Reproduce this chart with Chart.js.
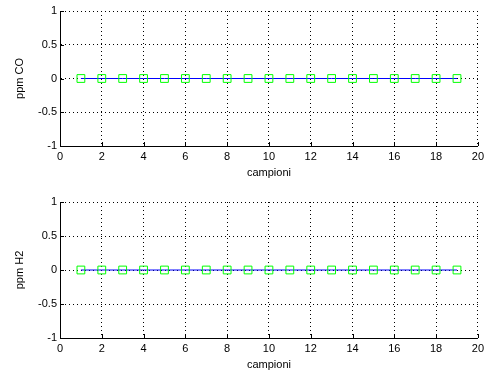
<!DOCTYPE html>
<html>
<head>
<meta charset="utf-8">
<script src="https://cdn.jsdelivr.net/npm/chart.js@4"></script>
<style>
	html, body { margin:0; padding:0; background:#fff; }
	#grafici { position:relative; width:488px; height:376px; }
	.riquadro { position:absolute; left:0; width:488px; height:188px; }
</style>
</head>
<body>
<div id="grafici">
	<div class="riquadro" style="top:0"><canvas id="canva_co" width="488" height="188"></canvas></div>
	<div class="riquadro" style="top:188px"><canvas id="canva_h2" width="488" height="188"></canvas></div>
</div>
<script>
// numero del campione
const campioni = [1, 2, 3, 4, 5, 6, 7, 8, 9, 10, 11, 12, 13, 14, 15, 16, 17, 18, 19];
// letture dei sensori
const ppm_co = [0, 0, 0, 0, 0, 0, 0, 0, 0, 0, 0, 0, 0, 0, 0, 0, 0, 0, 0];
const ppm_h2 = [0, 0, 0, 0, 0, 0, 0, 0, 0, 0, 0, 0, 0, 0, 0, 0, 0, 0, 0];
// tacche degli assi
const tacche_x = [0, 2, 4, 6, 8, 10, 12, 14, 16, 18, 20];
const tacche_y = [-1, -0.5, 0, 0.5, 1];

const font_assi = { family: "'Liberation Sans', Arial, sans-serif", size: 11 };

// tacche corte verso l'interno, come negli assi di matlab
const tacche_interne = {
	id: 'tacche_interne',
	afterDatasetsDraw(chart) {
		const { ctx, chartArea, scales: { x, y } } = chart;
		ctx.save();
		ctx.strokeStyle = '#000';
		ctx.lineWidth = 1;
		ctx.beginPath();
		x.ticks.forEach(t => {
			let px = Math.round(x.getPixelForValue(t.value)) + 0.5;
			ctx.moveTo(px, chartArea.bottom);
			ctx.lineTo(px, chartArea.bottom - 4);
		});
		y.ticks.forEach(t => {
			let py = Math.round(y.getPixelForValue(t.value)) + 0.5;
			ctx.moveTo(chartArea.left, py);
			ctx.lineTo(chartArea.left + 4, py);
		});
		ctx.stroke();
		ctx.restore();
	}
};

function crea_grafico(id, valori, etichetta_y, sopra, sotto) {
	const ctx = document.getElementById(id).getContext('2d');
	return new Chart(ctx, {
		type: 'line',
		data: {
			datasets: [{
				data: campioni.map((c, i) => ({ x: c, y: valori[i] })),
				borderColor: '#0000ff',
				borderWidth: 1,
				pointStyle: 'rect',
				pointRadius: 5.5,
				pointBorderColor: '#00ff00',
				pointBackgroundColor: 'rgba(0,0,0,0)',
				pointBorderWidth: 1,
				fill: false,
				tension: 0
			}]
		},
		options: {
			responsive: false,
			animation: false,
			events: [],
			layout: { padding: { top: sopra, right: 10, bottom: sotto, left: 0 } },
			plugins: { legend: { display: false }, tooltip: { enabled: false } },
			scales: {
				x: {
					type: 'linear',
					min: 0,
					max: 20,
					afterBuildTicks: s => { s.ticks = tacche_x.map(v => ({ value: v })); },
					afterFit: s => { s.height = 34; },
					grid: { color: '#000', drawTicks: false },
					border: { color: '#000', width: 1, dash: [1, 3] },
					ticks: { color: '#000', font: font_assi, padding: 4, maxRotation: 0, callback: v => String(v) },
					title: { display: true, text: 'campioni', color: '#000', font: font_assi, padding: { top: 0, bottom: 0 } }
				},
				y: {
					type: 'linear',
					min: -1,
					max: 1,
					afterBuildTicks: s => { s.ticks = tacche_y.map(v => ({ value: v })); },
					afterFit: s => { s.width = 60; },
					grid: { color: '#000', drawTicks: false },
					border: { color: '#000', width: 1, dash: [1, 3] },
					ticks: { color: '#000', font: font_assi, padding: 3, callback: v => String(v) },
					title: { display: true, text: etichetta_y, color: '#000', font: font_assi, padding: { top: 13, bottom: 0 } }
				}
			}
		},
		plugins: [tacche_interne]
	});
}

crea_grafico('canva_co', ppm_co, 'ppm CO', 11, 8);
crea_grafico('canva_h2', ppm_h2, 'ppm H2', 14, 4);
</script>
</body>
</html>
